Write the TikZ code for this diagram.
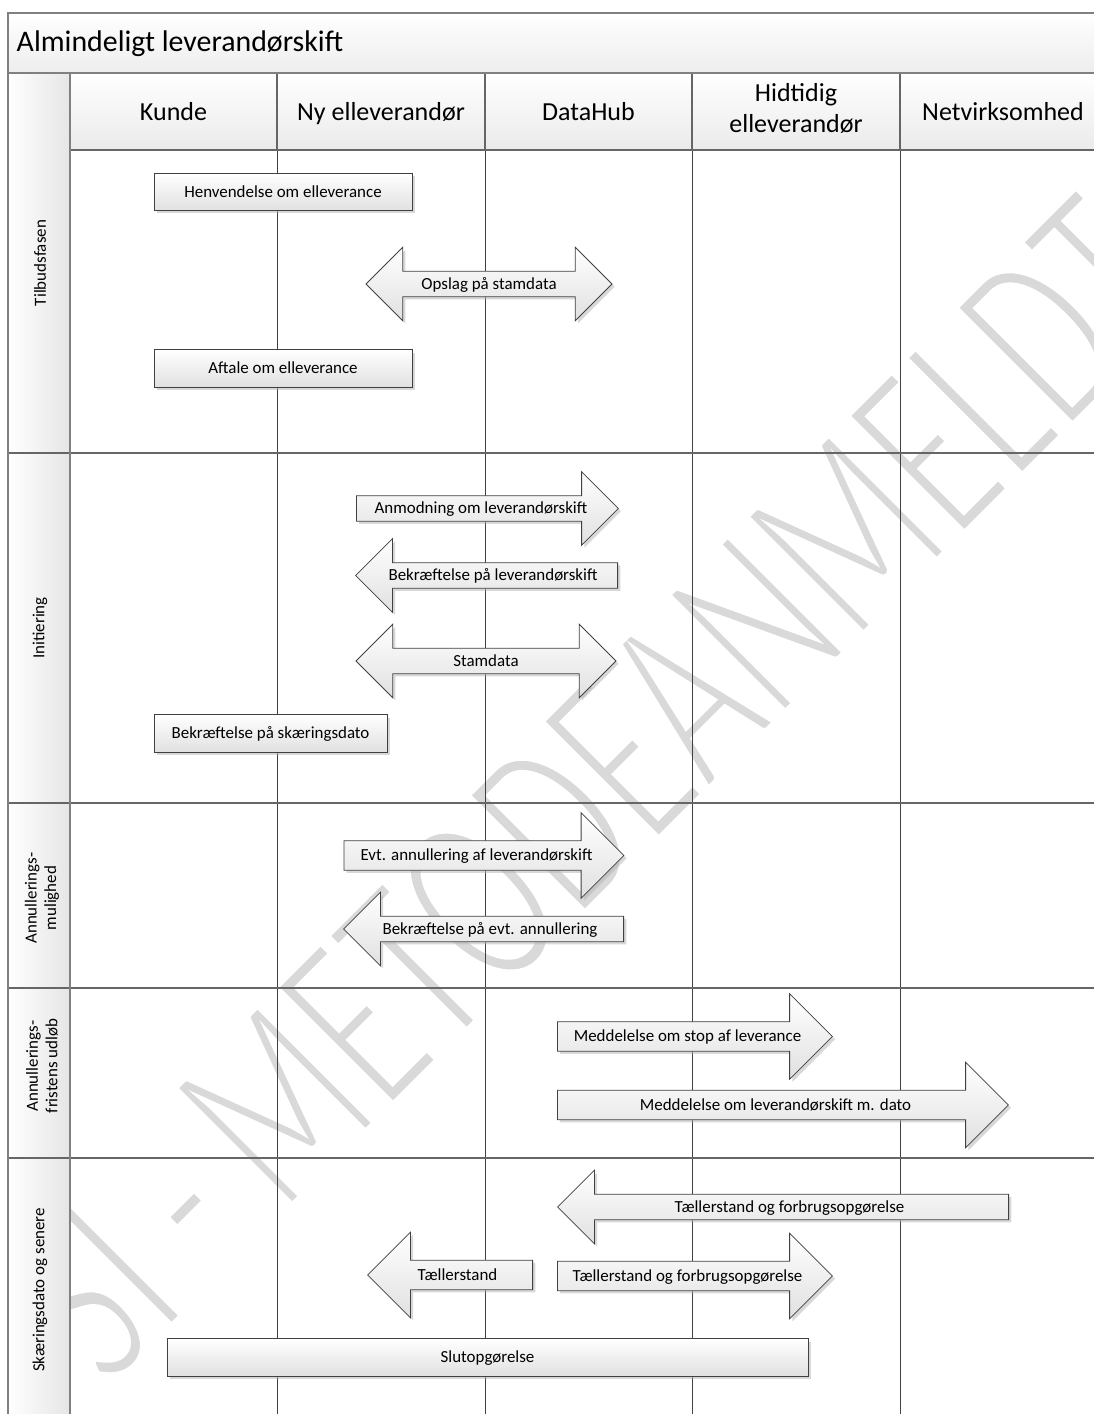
\documentclass[tikz,border=0pt]{standalone}
\usepackage{fontspec}
\setmainfont{Carlito}
\usetikzlibrary{shapes.arrows,shadows}

\begin{document}
\begin{tikzpicture}[x=0.75pt,y=-0.75pt]
\tikzstyle{frame}=[black!50,line width=1.2pt]
\tikzstyle{sep}=[black!60,line width=0.9pt]
\tikzstyle{lane}=[black!75,line width=0.7pt]
\tikzstyle{hdr}=[font=\fontsize{19.5}{23.3}\selectfont]
\tikzstyle{phase}=[rotate=90,align=center,font=\fontsize{12.7}{14.6}\selectfont]
\tikzstyle{msg}=[draw=black!75,line width=0.6pt,top color=white,bottom color=black!12,drop shadow={shadow xshift=2pt,shadow yshift=-2pt,fill=black!30,opacity=0.5},font=\fontsize{12.7}{15}\selectfont,text height=8.2pt,text depth=0pt,inner xsep=0pt]
\tikzstyle{box}=[msg,rectangle,inner ysep=0pt,minimum height=28pt]
\tikzstyle{fwd}=[msg,single arrow]
\tikzstyle{bwd}=[fwd,shape border rotate=180]
\tikzstyle{both}=[msg,double arrow]
\tikzstyle{smallhead}=[inner ysep=5.2pt,single arrow head extend=18pt,double arrow head extend=18pt]
\tikzstyle{bighead}=[inner ysep=6.7pt,single arrow head extend=21pt,double arrow head extend=21pt]

\useasboundingbox (0,0) rectangle (1094,1414);
\clip (0,0) rectangle (1094,1414);

% watermark
\begin{scope}[shift={(108,1392)},rotate=45,xscale=0.64,transform shape]
\node (0) [anchor=base west,inner sep=0pt,text=black!15,font=\fontsize{198}{200}\selectfont] {\special{pdf:literal direct 2 Tr 1 1 1 RG 7 w}SI - METODEANMELDT\special{pdf:literal direct 0 Tr}};
\end{scope}

% pool and lanes
\shade[top color=white,bottom color=black!7] (8,13) rectangle (1110,73);
\shade[top color=white,bottom color=black!8] (70,73) rectangle (1110,150);
\shade[left color=white,right color=black!10] (8,73) rectangle (70,1430);
\draw[lane] (277,150) -- (277,1430);
\draw[lane] (485,150) -- (485,1430);
\draw[lane] (692,150) -- (692,1430);
\draw[lane] (900,150) -- (900,1430);
\draw[sep] (277,73) -- (277,150);
\draw[sep] (485,73) -- (485,150);
\draw[sep] (692,73) -- (692,150);
\draw[sep] (900,73) -- (900,150);
\draw[sep] (70,150) -- (1110,150);
\draw[sep] (8,453) -- (1110,453);
\draw[sep] (8,803) -- (1110,803);
\draw[sep] (8,988) -- (1110,988);
\draw[sep] (8,1158) -- (1110,1158);
\draw[frame] (70,73) -- (70,1430);
\draw[frame] (8,73) -- (1110,73);
\draw[frame] (8,1430) -- (8,13) -- (1110,13);

\node (21) at (12,51) [anchor=base west,font=\fontsize{22.4}{26}\selectfont] {Almindeligt leverandørskift};
\node (22) at (173.5,120) [anchor=base,hdr] {Kunde};
\node (23) at (381,120) [anchor=base,hdr] {Ny elleverandør};
\node (24) at (588.5,120) [anchor=base,hdr] {DataHub};
\node (25) at (796,108) [hdr,align=center] {Hidtidig\\elleverandør};
\node (26) at (1003,120) [anchor=base,hdr] {Netvirksomhed};

\node (31) at (40,263) [phase] {Tilbudsfasen};
\node (32) at (40,628) [phase] {Initiering};
\node (33) at (42,898) [phase] {Annullerings-\\mulighed};
\node (34) at (42,1066) [phase] {Annullerings-\\fristens udløb};
\node (35) at (40,1290) [phase] {Skæringsdato og senere};

\node (1) at (283,192) [box,minimum width=193.5pt] {Henvendelse om elleverance};
\node (2) at (489,284) [both,smallhead,minimum height=184.5pt] {Opslag på stamdata};
\node (3) at (283,368.5) [box,minimum width=193.5pt] {Aftale om elleverance};
\node (4) at (481,508.5) [fwd,smallhead,minimum height=196.5pt] {Anmodning om leverandørskift};
\node (5) at (493,575.5) [bwd,smallhead,minimum height=196.5pt] {Bekræftelse på leverandørskift};
\node (6) at (486,661) [both,smallhead,minimum height=195pt] {Stamdata};
\node (7) at (270.5,733.5) [box,minimum width=174.75pt] {Bekræftelse på skæringsdato};
\node (8) at (476.5,855.5) [fwd,bighead,minimum height=210pt] {Evt. annullering af leverandørskift};
\node (9) at (490,929) [bwd,smallhead,minimum height=210pt] {Bekræftelse på evt. annullering};
\node (10) at (687.5,1036.5) [fwd,bighead,minimum height=206.25pt] {Meddelelse om stop af leverance};
\node (11) at (775.5,1105) [fwd,bighead,minimum height=338.25pt] {Meddelelse om leverandørskift m. dato};
\node (12) at (789.5,1207) [bwd,smallhead,minimum height=338.25pt] {Tællerstand og forbrugsopgørelse};
\node (13) at (687.5,1276) [fwd,bighead,minimum height=206.25pt] {Tællerstand og forbrugsopgørelse};
\node (14) at (457.5,1275) [bwd,bighead,minimum height=123.75pt] {Tællerstand};
\node (15) at (487.5,1357.5) [box,minimum width=480.75pt] {Slutopgørelse};
\end{tikzpicture}
\end{document}
